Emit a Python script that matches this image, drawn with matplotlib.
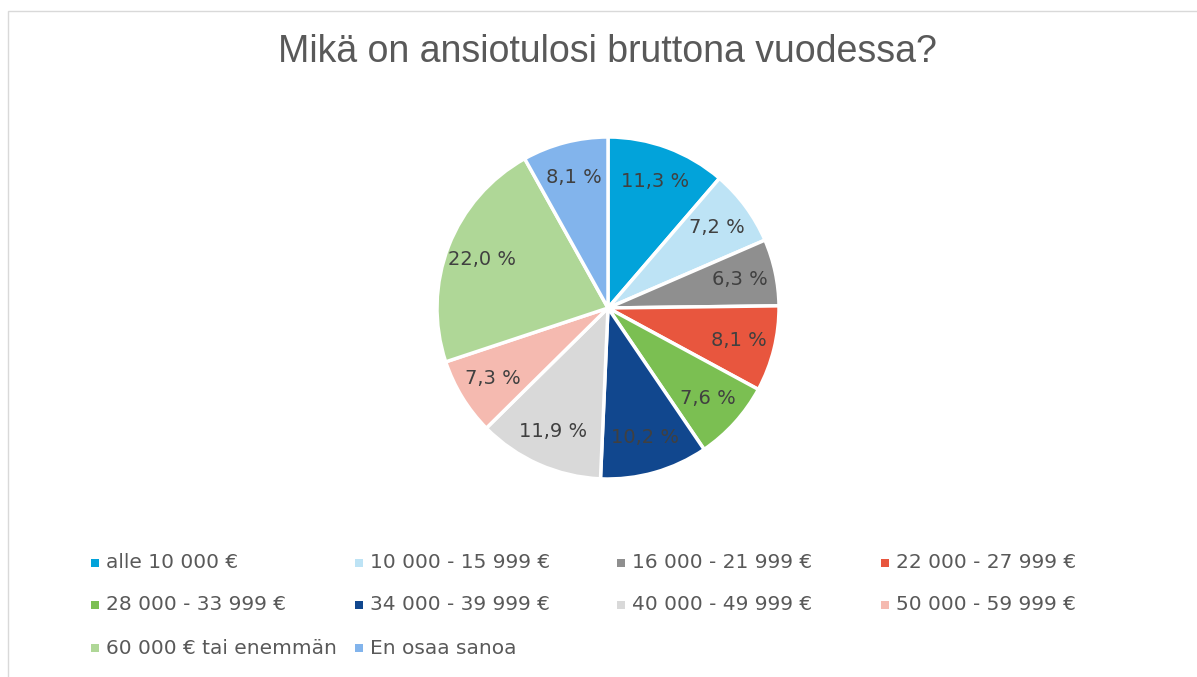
import matplotlib
matplotlib.use("Agg")
import matplotlib.pyplot as plt
from matplotlib.patches import Rectangle

categories = ["alle 10 000 €", "10 000 - 15 999 €", "16 000 - 21 999 €", "22 000 - 27 999 €",
              "28 000 - 33 999 €", "34 000 - 39 999 €", "40 000 - 49 999 €", "50 000 - 59 999 €",
              "60 000 € tai enemmän", "En osaa sanoa"]
values = [11.3, 7.2, 6.3, 8.1, 7.6, 10.2, 11.9, 7.3, 22.0, 8.1]
colors = ["#02A3DA", "#BDE3F5", "#8F8F8F", "#E8563E", "#7BBF52", "#11478E",
          "#D9D9D9", "#F5BAB0", "#AFD797", "#82B4EC"]
title = "Mikä on ansiotulosi bruttona vuodessa?"

W, H = 1197, 677
fig = plt.figure(figsize=(W / 100, H / 100), dpi=100)
fig.patch.set_facecolor("white")

# outer frame
fig.add_artist(Rectangle((8 / W, -0.1), 1.2, 1 - 11 / H + 0.1, transform=fig.transFigure,
                         fill=False, edgecolor="#D9D9D9", linewidth=1.0))

cx, cy, R = 608, 308, 171
ax = fig.add_axes([(cx - R) / W, 1 - (cy + R) / H, (2 * R) / W, (2 * R) / H])
labels = [f"{v:.1f} %".replace(".", ",") for v in values]
wedges, texts = ax.pie(values, colors=colors, startangle=90, counterclock=False,
                       radius=1.0, labels=labels, labeldistance=0.79,
                       wedgeprops=dict(edgecolor="white", linewidth=2.5),
                       textprops=dict(fontsize=14, color="#404040", family="DejaVu Sans"))
for t in texts:
    t.set_ha("center")
    t.set_va("center")
ax.set_xlim(-1, 1)
ax.set_ylim(-1, 1)
ax.set_aspect("equal")
for w in wedges:
    w.set_clip_on(False)

fig.text(607 / W, 1 - 52 / H, title, ha="center", va="center", fontsize=27,
         color="#595959", family="Liberation Sans")

# legend
col_x = [91, 355, 617, 881]
row_y = [563, 605, 648]
ms = 8
for i, (lab, c) in enumerate(zip(categories, colors)):
    r, k = divmod(i, 4)
    x, y = col_x[k], row_y[r]
    fig.add_artist(Rectangle((x / W, 1 - (y + ms / 2) / H), ms / W, ms / H,
                             transform=fig.transFigure, facecolor=c, edgecolor="none"))
    fig.text((x + 15) / W, 1 - y / H, lab, ha="left", va="center", fontsize=14.5,
             color="#595959", family="DejaVu Sans")

fig.savefig("out.png", dpi=100)
